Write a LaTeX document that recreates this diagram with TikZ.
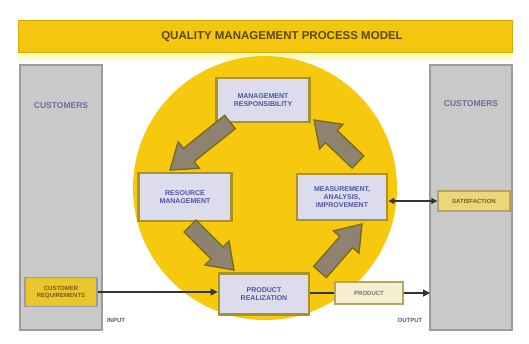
\documentclass[tikz,border=0pt]{standalone}
\usepackage{fontspec}
\setmainfont{Liberation Sans}
\usetikzlibrary{calc,arrows.meta}

\definecolor{titleyellow}{HTML}{F4C70E}
\definecolor{titleedge}{HTML}{D9A80A}
\definecolor{titletext}{HTML}{5E4612}
\definecolor{colfill}{HTML}{C9C9C9}
\definecolor{coledge}{HTML}{9C9C9C}
\definecolor{custtext}{HTML}{6C6CA0}
\definecolor{circfill}{HTML}{F6C90E}
\definecolor{boxfill}{HTML}{DCDCEC}
\definecolor{boxedge}{HTML}{A8922C}
\definecolor{boxtext}{HTML}{4F55A0}
\definecolor{reqfill}{HTML}{E9C62E}
\definecolor{reqtext}{HTML}{7A5C18}
\definecolor{satfill}{HTML}{EAD77A}
\definecolor{satedge}{HTML}{B7A360}
\definecolor{prodfill}{HTML}{F6EED0}
\definecolor{arrowfill}{HTML}{8E8270}
\definecolor{arrowedge}{HTML}{7A6A14}

\tikzset{
  column/.style={draw=coledge, fill=colfill, line width=2pt},
  stagebox/.style={draw=boxedge, fill=boxfill, line width=2.8pt, align=center,
    text=boxtext, font=\fontsize{7}{8}\selectfont\bfseries, inner sep=0pt},
  custlabel/.style={text=custtext, font=\fontsize{8.5}{10}\selectfont\bfseries},
  flowbox/.style={line width=1.4pt, align=center, inner sep=0pt,
    font=\fontsize{6}{7}\selectfont\bfseries},
  flowline/.style={draw=black!80, line width=1.3pt},
  flowtip/.style={-{Triangle[width=7pt,length=7pt]}},
  iolabel/.style={text=black!65, font=\fontsize{6}{7}\selectfont\bfseries},
  bigarrow/.style={draw=arrowedge, fill=arrowfill, line width=1.3pt, line join=miter}
}

% block arrow from tail #1 to tip #2
\newcommand{\blockarrow}[2]{%
  \draw[bigarrow]
    ($(#1)!8.5pt!90:(#2)$) --
    ($($(#2)!24pt!(#1)$)!8.5pt!90:(#2)$) --
    ($($(#2)!24pt!(#1)$)!17pt!90:(#2)$) --
    (#2) --
    ($($(#2)!24pt!(#1)$)!17pt!-90:(#2)$) --
    ($($(#2)!24pt!(#1)$)!8.5pt!-90:(#2)$) --
    ($(#1)!8.5pt!-90:(#2)$) -- cycle;}

\begin{document}
\begin{tikzpicture}[x=1pt,y=-1pt]
  \useasboundingbox (0,0) rectangle (529,343);
  \fill[white] (0,0) rectangle (529,343);

  % title bar
  \fill[yellow!25] (18,52) rectangle (512,60);
  \draw[draw=titleedge, fill=titleyellow, line width=1pt] (18,20) rectangle (512,52);
  \node[text=titletext, font=\fontsize{11.5}{13}\selectfont\bfseries, inner sep=0pt]
        (title) at (282,37) {QUALITY MANAGEMENT PROCESS MODEL};

  % customer columns
  \draw[column] (20,65) rectangle (102,330);
  \draw[column] (430,65) rectangle (512,330);
  \node[custlabel] (custL) at (61,106) {CUSTOMERS};
  \node[custlabel] (custR) at (471,104) {CUSTOMERS};

  % process circle
  \fill[circfill] (265,188) circle (132);

  % process stages
  \node[stagebox, minimum width=93pt, minimum height=44pt] (mgmt) at (263,100)
    {MANAGEMENT\\RESPONSIBILITY};
  \node[stagebox, minimum width=93pt, minimum height=48pt] (res) at (185,197)
    {RESOURCE\\MANAGEMENT};
  \node[stagebox, minimum width=90pt, minimum height=46pt] (meas) at (342,197)
    {MEASUREMENT,\\ANALYSIS,\\IMPROVEMENT};
  \node[stagebox, minimum width=90pt, minimum height=41pt] (real) at (264,294)
    {PRODUCT\\REALIZATION};

  % input / output boxes
  \node[flowbox, draw=coledge, fill=reqfill, text=reqtext,
        minimum width=72pt, minimum height=29pt] (req) at (61,292)
    {CUSTOMER\\REQUIREMENTS};
  \node[flowbox, draw=satedge, fill=satfill, text=reqtext,
        minimum width=72pt, minimum height=20pt] (sat) at (474,201)
    {SATISFACTION};
  \node[flowbox, draw=satedge, fill=prodfill, text=black!55,
        minimum width=68pt, minimum height=22pt] (prod) at (369,293)
    {PRODUCT};

  % cycle arrows between stages
  \coordinate (a1t) at (230,122); \coordinate (a1h) at (170,170);
  \coordinate (a2t) at (190,226); \coordinate (a2h) at (234,270);
  \coordinate (a3t) at (320,272); \coordinate (a3h) at (362,224);
  \coordinate (a4t) at (358,162); \coordinate (a4h) at (314,120);
  \blockarrow{a1t}{a1h}
  \blockarrow{a2t}{a2h}
  \blockarrow{a3t}{a3h}
  \blockarrow{a4t}{a4h}

  % information and product flow
  \draw[flowline, flowtip] (req.east) -- (req.east -| real.west);
  \draw[flowline] (real.east |- prod.west) -- (prod.west);
  \coordinate (outR) at (430,293);
  \draw[flowline, flowtip] (prod.east) -- (outR);
  \draw[flowline, {Triangle[width=6pt,length=6pt]}-{Triangle[width=6pt,length=6pt]}]
    (meas.east |- sat.west) -- (sat.west);

  \node[iolabel] (inlbl) at (116,320) {INPUT};
  \node[iolabel] (outlbl) at (410,320) {OUTPUT};
\end{tikzpicture}
\end{document}
